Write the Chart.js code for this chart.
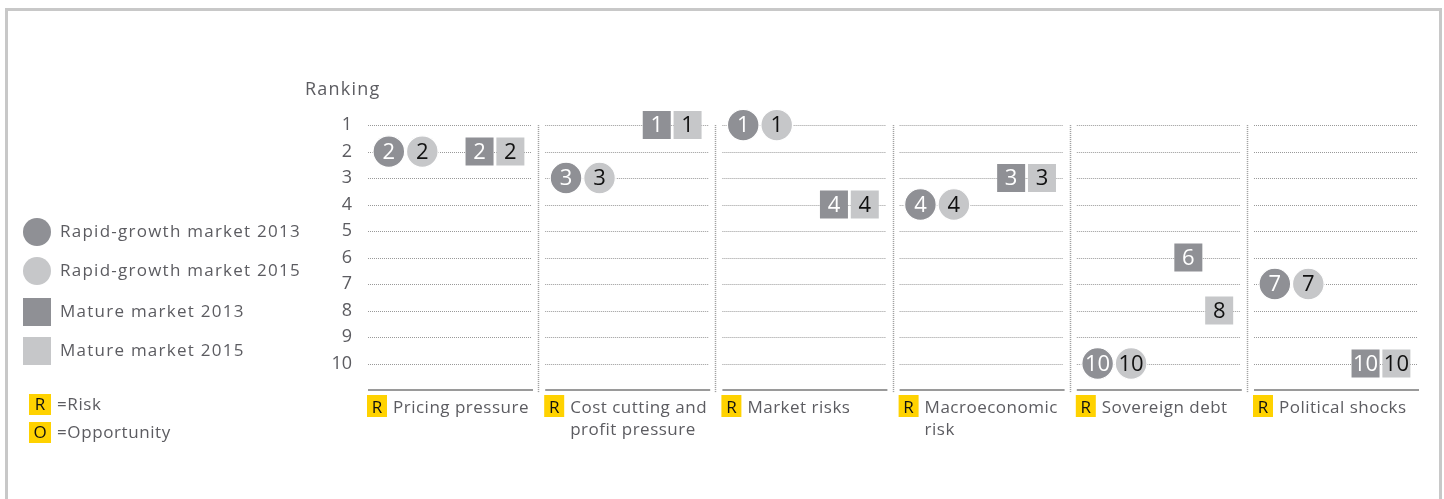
<!DOCTYPE html>
<html>
<head>
<meta charset="utf-8">
<script src="https://cdn.jsdelivr.net/npm/chart.js@4.4.1/dist/chart.umd.min.js"></script>
<style>
  html, body { margin: 0; padding: 0; background: #fff; }
  #wrap { position: relative; width: 1444px; height: 499px; overflow: hidden; }
  #frame { position: absolute; left: 5px; top: 8px; width: 1431px; height: 520px;
           border: 3px solid #c8c8c8; border-bottom: none; box-sizing: content-box; }
  canvas { position: absolute; left: 0; top: 0; }
</style>
</head>
<body>
<div id="wrap">
  <div id="frame"></div>
  <canvas id="c" width="1444" height="499"></canvas>
</div>
<script>
// ---- data ----
const categories = [
  ["Pricing pressure"],
  ["Cost cutting and", "profit pressure"],
  ["Market risks"],
  ["Macroeconomic", "risk"],
  ["Sovereign debt"],
  ["Political shocks"]
];
const categoryType = ["R", "R", "R", "R", "R", "R"];
const rapid2013 = [2, 3, 1, 4, 10, 7];
const rapid2015 = [2, 3, 1, 4, 10, 7];
const mature2013 = [2, 1, 4, 3, 6, 10];
const mature2015 = [2, 1, 4, 3, 8, 10];
const rankTicks = [1, 2, 3, 4, 5, 6, 7, 8, 9, 10];
const seriesNames = ["Rapid-growth market 2013", "Rapid-growth market 2015", "Mature market 2013", "Mature market 2015"];
const keyItems = [["R", "=Risk"], ["O", "=Opportunity"]];

// ---- style ----
const DARK = "#8f9095";
const LIGHT = "#c6c7c9";
const YELLOW = "#ffd200";
const TEXT = "#5c5c61";
const FONT = "'Open Sans', sans-serif";
const slotOffset = [0.157, 0.346, 0.669, 0.843];

function pts(arr, slot) {
  return arr.map((v, i) => ({ x: i + slotOffset[slot], y: v }));
}

const datasets = [
  { label: seriesNames[0], data: pts(rapid2013, 0), pointStyle: "circle", pointRadius: 15.8, backgroundColor: DARK, borderColor: "#fff", borderWidth: 1.2, textColor: "#fff" },
  { label: seriesNames[1], data: pts(rapid2015, 1), pointStyle: "circle", pointRadius: 15.8, backgroundColor: LIGHT, borderColor: "#fff", borderWidth: 1.2, textColor: "#111" },
  { label: seriesNames[2], data: pts(mature2013, 2), pointStyle: "rect", pointRadius: 19.8, backgroundColor: DARK, borderColor: DARK, borderWidth: 0, textColor: "#fff" },
  { label: seriesNames[3], data: pts(mature2015, 3), pointStyle: "rect", pointRadius: 19.8, backgroundColor: LIGHT, borderColor: LIGHT, borderWidth: 0, textColor: "#111" }
];
datasets.forEach(d => { d.pointHoverRadius = d.pointRadius; d.showLine = false; });

function setSpacing(ctx, s) { if ('letterSpacing' in ctx) ctx.letterSpacing = s; }

const decorPlugin = {
  id: "decor",
  beforeDatasetsDraw(chart) {
    const { ctx, scales: { x, y } } = chart;
    ctx.save();
    // dotted grid lines per group
    ctx.strokeStyle = "#999";
    ctx.lineWidth = 1;
    ctx.setLineDash([1, 1]);
    rankTicks.forEach(r => {
      const py = Math.round(y.getPixelForValue(r)) + 0.5;
      for (let g = 0; g < categories.length; g++) {
        ctx.beginPath();
        ctx.moveTo(x.getPixelForValue(g) + 7, py);
        ctx.lineTo(x.getPixelForValue(g + 1) - 7, py);
        ctx.stroke();
      }
    });
    // vertical separators
    ctx.strokeStyle = "#9a9a9a";
    ctx.lineWidth = 1.5;
    for (let g = 1; g < categories.length; g++) {
      const px = Math.round(x.getPixelForValue(g)) + 0.5;
      ctx.beginPath();
      ctx.moveTo(px, y.getPixelForValue(1));
      ctx.lineTo(px, y.getPixelForValue(11) + 3);
      ctx.stroke();
    }
    // baselines
    ctx.setLineDash([]);
    ctx.strokeStyle = "#9a9a9a";
    ctx.lineWidth = 2;
    const by = y.getPixelForValue(11);
    for (let g = 0; g < categories.length; g++) {
      ctx.beginPath();
      ctx.moveTo(x.getPixelForValue(g) + 7, by);
      ctx.lineTo(x.getPixelForValue(g) + 172, by);
      ctx.stroke();
    }
    ctx.restore();
  },
  afterDatasetsDraw(chart) {
    const { ctx, scales: { x, y } } = chart;
    ctx.save();
    // numbers in markers
    ctx.font = "22px " + FONT;
    ctx.textAlign = "center";
    ctx.textBaseline = "middle";
    chart.data.datasets.forEach((ds, i) => {
      const meta = chart.getDatasetMeta(i);
      meta.data.forEach((el, j) => {
        ctx.fillStyle = ds.textColor;
        ctx.fillText(String(ds.data[j].y), el.x, el.y + 1);
      });
    });

    // axis title
    setSpacing(ctx, "1.2px");
    ctx.fillStyle = TEXT;
    ctx.font = "18px " + FONT;
    ctx.textAlign = "left";
    ctx.textBaseline = "alphabetic";
    ctx.fillText("Ranking", 305, 95);

    // category labels
    const by = y.getPixelForValue(11);
    categories.forEach((lines, g) => {
      const gx = x.getPixelForValue(g) + 6;
      ctx.fillStyle = YELLOW;
      ctx.fillRect(gx, by + 5, 20, 22);
      setSpacing(ctx, "0px");
      ctx.fillStyle = "#111";
      ctx.font = "17px " + FONT;
      ctx.textAlign = "center";
      ctx.fillText(categoryType[g], gx + 10, by + 23);
      setSpacing(ctx, "0.5px");
      ctx.fillStyle = TEXT;
      ctx.textAlign = "left";
      lines.forEach((ln, k) => ctx.fillText(ln, gx + 26, by + 23 + k * 22));
    });

    // legend
    const legY = [232, 271, 312, 351];
    chart.data.datasets.forEach((ds, i) => {
      ctx.fillStyle = ds.backgroundColor;
      if (ds.pointStyle === "circle") {
        ctx.beginPath();
        ctx.arc(37, legY[i], 14, 0, Math.PI * 2);
        ctx.fill();
      } else {
        ctx.fillRect(23, legY[i] - 14, 28, 28);
      }
      setSpacing(ctx, "1.25px");
      ctx.fillStyle = TEXT;
      ctx.font = "17px " + FONT;
      ctx.textAlign = "left";
      ctx.textBaseline = "middle";
      ctx.fillText(ds.label, 60, legY[i]);
    });
    // key
    keyItems.forEach((k, i) => {
      const ky = 394 + i * 28;
      ctx.fillStyle = YELLOW;
      ctx.fillRect(29, ky, 22, 21);
      setSpacing(ctx, "0px");
      ctx.fillStyle = "#111";
      ctx.textAlign = "center";
      ctx.textBaseline = "middle";
      ctx.fillText(k[0], 40, ky + 11);
      setSpacing(ctx, "0.6px");
      ctx.fillStyle = TEXT;
      ctx.textAlign = "left";
      ctx.fillText(k[1], 57, ky + 11);
    });
    ctx.restore();
  }
};

new Chart(document.getElementById("c"), {
  type: "scatter",
  data: { datasets },
  options: {
    responsive: false,
    animation: false,
    events: [],
    layout: { padding: { left: 321, right: 16, top: 98.6, bottom: 109 } },
    plugins: { legend: { display: false }, tooltip: { enabled: false } },
    scales: {
      x: { type: "linear", min: 0, max: categories.length, display: false },
      y: {
        type: "linear", reverse: true, min: 0, max: 11,
        afterBuildTicks: s => { s.ticks = rankTicks.map(v => ({ value: v })); },
        afterFit: s => { s.width = 40; },
        grid: { display: false, drawTicks: false },
        border: { display: false },
        ticks: { padding: 9, color: TEXT, font: { family: "'Open Sans', sans-serif", size: 18 } }
      }
    }
  },
  plugins: [decorPlugin]
});
</script>
</body>
</html>
